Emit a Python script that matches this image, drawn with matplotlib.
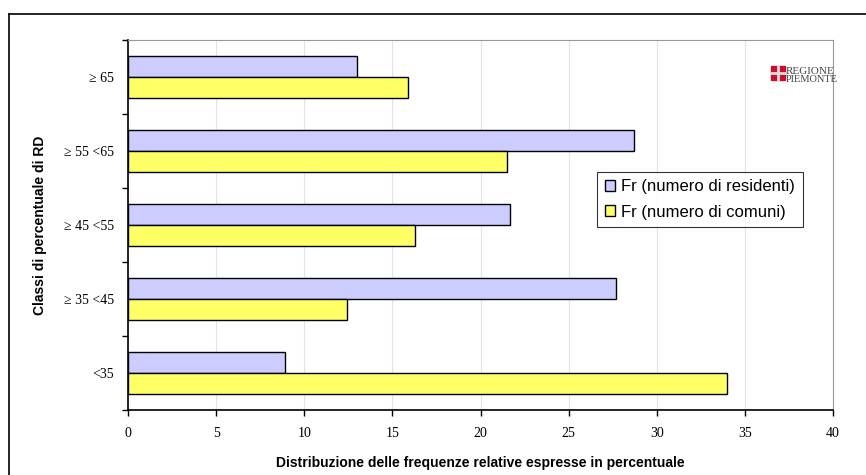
import matplotlib.pyplot as plt
import matplotlib.patches as mpatches
from matplotlib.lines import Line2D
import numpy as np

categories = ['<35', '\u2265 35 <45', '\u2265 45 <55', '\u2265 55 <65', '\u2265 65']
residenti = [8.9, 27.7, 21.7, 28.7, 13.0]
comuni = [34.0, 12.4, 16.3, 21.5, 15.9]
labels = ['Fr (numero di residenti)', 'Fr (numero di comuni)']
xticks = [0, 5, 10, 15, 20, 25, 30, 35, 40]

W, H = 866, 475
fig = plt.figure(figsize=(W / 100, H / 100), dpi=100)
ax = fig.add_axes([128 / W, 1 - 410 / H, (833 - 128) / W, (410 - 40) / H])

y = np.arange(len(categories))
h = 0.285
ax.barh(y + h / 2, residenti, height=h, color='#ccccff', edgecolor='black', linewidth=1, label=labels[0], zorder=3)
ax.barh(y - h / 2, comuni, height=h, color='#ffff66', edgecolor='black', linewidth=1, label=labels[1], zorder=3)

ax.set_xlim(0, 40)
ax.set_ylim(-0.5, len(categories) - 0.5)
ax.set_xticks(xticks)
ax.set_xticklabels([str(t) for t in xticks], fontfamily='Liberation Serif', fontsize=10)
ax.tick_params(axis='x', direction='out', length=4, width=1, pad=8)
ax.grid(axis='x', color='#e3e3e3', linewidth=0.8, zorder=0)

# category labels centred, ticks on the boundaries
ax.set_yticks(np.arange(len(categories) + 1) - 0.5)
ax.set_yticklabels([])
ax.set_yticks(y, minor=True)
ax.set_yticklabels(categories, minor=True, fontfamily='Liberation Serif', fontsize=10)
ax.tick_params(axis='y', which='major', direction='out', length=4, width=1)
ax.tick_params(axis='y', which='minor', length=0, pad=10)

for s in ['top', 'right']:
    ax.spines[s].set_color('#999999')
for s in ['left', 'bottom']:
    ax.spines[s].set_color('black')
    ax.spines[s].set_linewidth(1.2)

ax.set_xlabel('Distribuzione delle frequenze relative espresse in percentuale',
              fontfamily='Liberation Sans', fontweight='bold', fontsize=10, labelpad=12)
ax.set_ylabel('Classi di percentuale di RD',
              fontfamily='Liberation Sans', fontweight='bold', fontsize=10, labelpad=12)

leg = ax.legend(loc='upper left', bbox_to_anchor=((597 - 128) / 705, 1 - (172 - 40) / 370),
                prop={'family': 'Liberation Sans', 'size': 12}, frameon=True, fancybox=False,
                edgecolor='black', handlelength=0.6, handleheight=0.6, handletextpad=0.4,
                borderpad=0.45, labelspacing=0.6, borderaxespad=0)
leg.get_frame().set_linewidth(0.8)

# logo
fig.patches.append(mpatches.Rectangle((771 / W, 1 - 80 / H), 14 / W, 14 / H,
                                      transform=fig.transFigure, color='#c8102e'))
fig.add_artist(Line2D([778 / W, 778 / W], [1 - 80 / H, 1 - 66 / H], color='#dddddd', lw=2))
fig.add_artist(Line2D([771 / W, 785 / W], [1 - 73 / H, 1 - 73 / H], color='#dddddd', lw=2))
fig.text(786 / W, 1 - 71.5 / H, 'REGIONE', fontfamily='Liberation Serif', fontsize=8, color='#444444',
         va='center', fontstretch='condensed')
fig.text(786 / W, 1 - 79.5 / H, 'PIEMONTE', fontfamily='Liberation Serif', fontsize=7.5, color='#444444',
         va='center')

# outer frame
fig.add_artist(Line2D([9 / W, 9 / W], [0, 1 - 14 / H], color='black', lw=1.2))
fig.add_artist(Line2D([9 / W, 1], [1 - 14 / H, 1 - 14 / H], color='black', lw=1.2))

fig.savefig('out.png', dpi=100)
